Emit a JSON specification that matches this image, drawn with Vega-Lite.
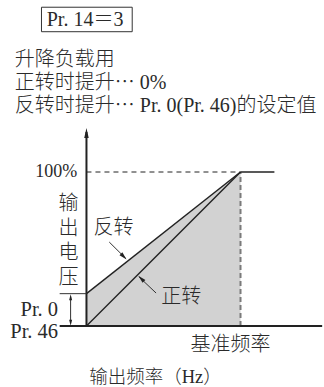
{
  "$schema": "https://vega.github.io/schema/vega-lite/v6.json",
  "width": 324,
  "height": 387,
  "padding": 0,
  "autosize": {"type": "fit", "contains": "padding"},
  "background": "white",
  "config": {"view": {"stroke": null}},
  "datasets": {
    "fill": [{"x": 0, "y": 21, "y2": 0}, {"x": 100, "y": 100, "y2": 0}],
    "axes": [
      {"x": 0, "y": 0, "x2": 0, "y2": 126},
      {"x": -17.4, "y": 0, "x2": 153, "y2": 0}
    ],
    "curves": [
      {"x": 0, "y": 0, "x2": 100, "y2": 100},
      {"x": 0, "y": 21, "x2": 100, "y2": 100},
      {"x": 100, "y": 100, "x2": 122, "y2": 100}
    ],
    "thin": [
      {"x": -17.4, "y": 21, "x2": 0, "y2": 21},
      {"x": -10.3, "y": 2, "x2": -10.3, "y2": 19},
      {"x": 14.8, "y": 54.5, "x2": 25.5, "y2": 43.9},
      {"x": 45.2, "y": 21.4, "x2": 34, "y2": 32}
    ],
    "dashblack": [{"x": 0, "y": 100, "x2": 100, "y2": 100}],
    "dashgray": [{"x": 100, "y": 0, "x2": 100, "y2": 100}],
    "yhead": [{"x": 0, "y": 125.3}],
    "uphead": [{"x": -10.3, "y": 18.6}],
    "downhead": [{"x": -10.3, "y": 2.1}],
    "revhead": [{"x": 24.2, "y": 45.1}],
    "fwdhead": [{"x": 35.5, "y": 30.8}],
    "box": [{"x": -29.2, "y": 207, "x2": 29.7, "y2": 191.1}],
    "leftText": [
      {"x": -25.8, "y": 198.7, "label": "Pr. 14＝3"},
      {"x": -46.5, "y": 173, "label": "升降负载用"},
      {"x": -46.5, "y": 158, "label": "正转时提升⋯ 0%"},
      {"x": -46.5, "y": 143, "label": "反转时提升⋯ Pr. 0(Pr. 46)的设定值"},
      {"x": 4.6, "y": 63.6, "label": "反转"},
      {"x": 48.5, "y": 19, "label": "正转"}
    ],
    "prText": [
      {"x": -18.4, "y": 10.4, "label": "Pr. 0"},
      {"x": -18.4, "y": -3.6, "label": "Pr. 46"}
    ],
    "pctText": [
      {"x": -6, "y": 100, "label": "100%"}
    ],
    "centerText": [
      {"x": -11.6, "y": 79.2, "label": "输"},
      {"x": -11.6, "y": 63.0, "label": "出"},
      {"x": -11.6, "y": 47.4, "label": "电"},
      {"x": -11.6, "y": 31.2, "label": "压"},
      {"x": 93.5, "y": -12.3, "label": "基准频率"}
    ],
    "titleText": [
      {"x": 44.8, "y": -33.4, "label": "输出频率（Hz）"}
    ]
  },
  "encoding": {
    "x": {"field": "x", "type": "quantitative", "axis": null,
          "scale": {"domain": [-56.13, 152.9], "nice": false, "zero": false}},
    "y": {"field": "y", "type": "quantitative", "axis": null,
          "scale": {"domain": [-39.61, 211.69], "nice": false, "zero": false}}
  },
  "layer": [
    {"data": {"name": "fill"}, "mark": {"type": "area", "color": "#d2d2d2", "opacity": 1},
     "encoding": {"y2": {"field": "y2"}}},
    {"data": {"name": "dashgray"}, "mark": {"type": "rule", "color": "#7a7a7a", "strokeWidth": 2, "strokeDash": [5, 3]},
     "encoding": {"x2": {"field": "x2"}, "y2": {"field": "y2"}}},
    {"data": {"name": "dashblack"}, "mark": {"type": "rule", "color": "#222", "strokeWidth": 1, "strokeDash": [5, 4]},
     "encoding": {"x2": {"field": "x2"}, "y2": {"field": "y2"}}},
    {"data": {"name": "axes"}, "mark": {"type": "rule", "color": "#222", "strokeWidth": 2},
     "encoding": {"x2": {"field": "x2"}, "y2": {"field": "y2"}}},
    {"data": {"name": "curves"}, "mark": {"type": "rule", "color": "#222", "strokeWidth": 1.4},
     "encoding": {"x2": {"field": "x2"}, "y2": {"field": "y2"}}},
    {"data": {"name": "thin"}, "mark": {"type": "rule", "color": "#333", "strokeWidth": 1},
     "encoding": {"x2": {"field": "x2"}, "y2": {"field": "y2"}}},
    {"data": {"name": "yhead"}, "mark": {"type": "point", "filled": true, "color": "#222", "opacity": 1, "size": 100,
       "shape": "M0,-1L0.45,1L-0.45,1Z"}},
    {"data": {"name": "uphead"}, "mark": {"type": "point", "filled": true, "color": "#222", "opacity": 1, "size": 36,
       "shape": "M0,-1L0.5,1L-0.5,1Z"}},
    {"data": {"name": "downhead"}, "mark": {"type": "point", "filled": true, "color": "#222", "opacity": 1, "size": 36,
       "shape": "M0,1L0.5,-1L-0.5,-1Z"}},
    {"data": {"name": "revhead"}, "mark": {"type": "point", "filled": true, "color": "#222", "opacity": 1, "size": 64,
       "angle": 135, "shape": "M0,-1L0.5,1L-0.5,1Z"}},
    {"data": {"name": "fwdhead"}, "mark": {"type": "point", "filled": true, "color": "#222", "opacity": 1, "size": 64,
       "angle": 315, "shape": "M0,-1L0.5,1L-0.5,1Z"}},
    {"data": {"name": "box"}, "mark": {"type": "rect", "fill": null, "fillOpacity": 0, "stroke": "#333", "strokeWidth": 1},
     "encoding": {"x2": {"field": "x2"}, "y2": {"field": "y2"}}},
    {"data": {"name": "leftText"}, "mark": {"type": "text", "align": "left", "baseline": "middle", "fontSize": 20,
       "fontWeight": 300, "font": "Liberation Serif, Noto Sans CJK SC", "color": "#2a2a2a"},
     "encoding": {"text": {"field": "label"}}},
    {"data": {"name": "prText"}, "mark": {"type": "text", "align": "right", "baseline": "middle", "fontSize": 20.5,
       "fontWeight": 300, "font": "Liberation Serif, Noto Sans CJK SC", "color": "#2a2a2a"},
     "encoding": {"text": {"field": "label"}}},
    {"data": {"name": "pctText"}, "mark": {"type": "text", "align": "right", "baseline": "middle", "fontSize": 18,
       "fontWeight": 300, "font": "Liberation Serif, Noto Sans CJK SC", "color": "#2a2a2a"},
     "encoding": {"text": {"field": "label"}}},
    {"data": {"name": "centerText"}, "mark": {"type": "text", "align": "center", "baseline": "middle", "fontSize": 20,
       "fontWeight": 300, "font": "Liberation Serif, Noto Sans CJK SC", "color": "#2a2a2a"},
     "encoding": {"text": {"field": "label"}}},
    {"data": {"name": "titleText"}, "mark": {"type": "text", "align": "center", "baseline": "middle", "fontSize": 18.5,
       "fontWeight": 300, "font": "Liberation Serif, Noto Sans CJK SC", "color": "#2a2a2a"},
     "encoding": {"text": {"field": "label"}}}
  ]
}
